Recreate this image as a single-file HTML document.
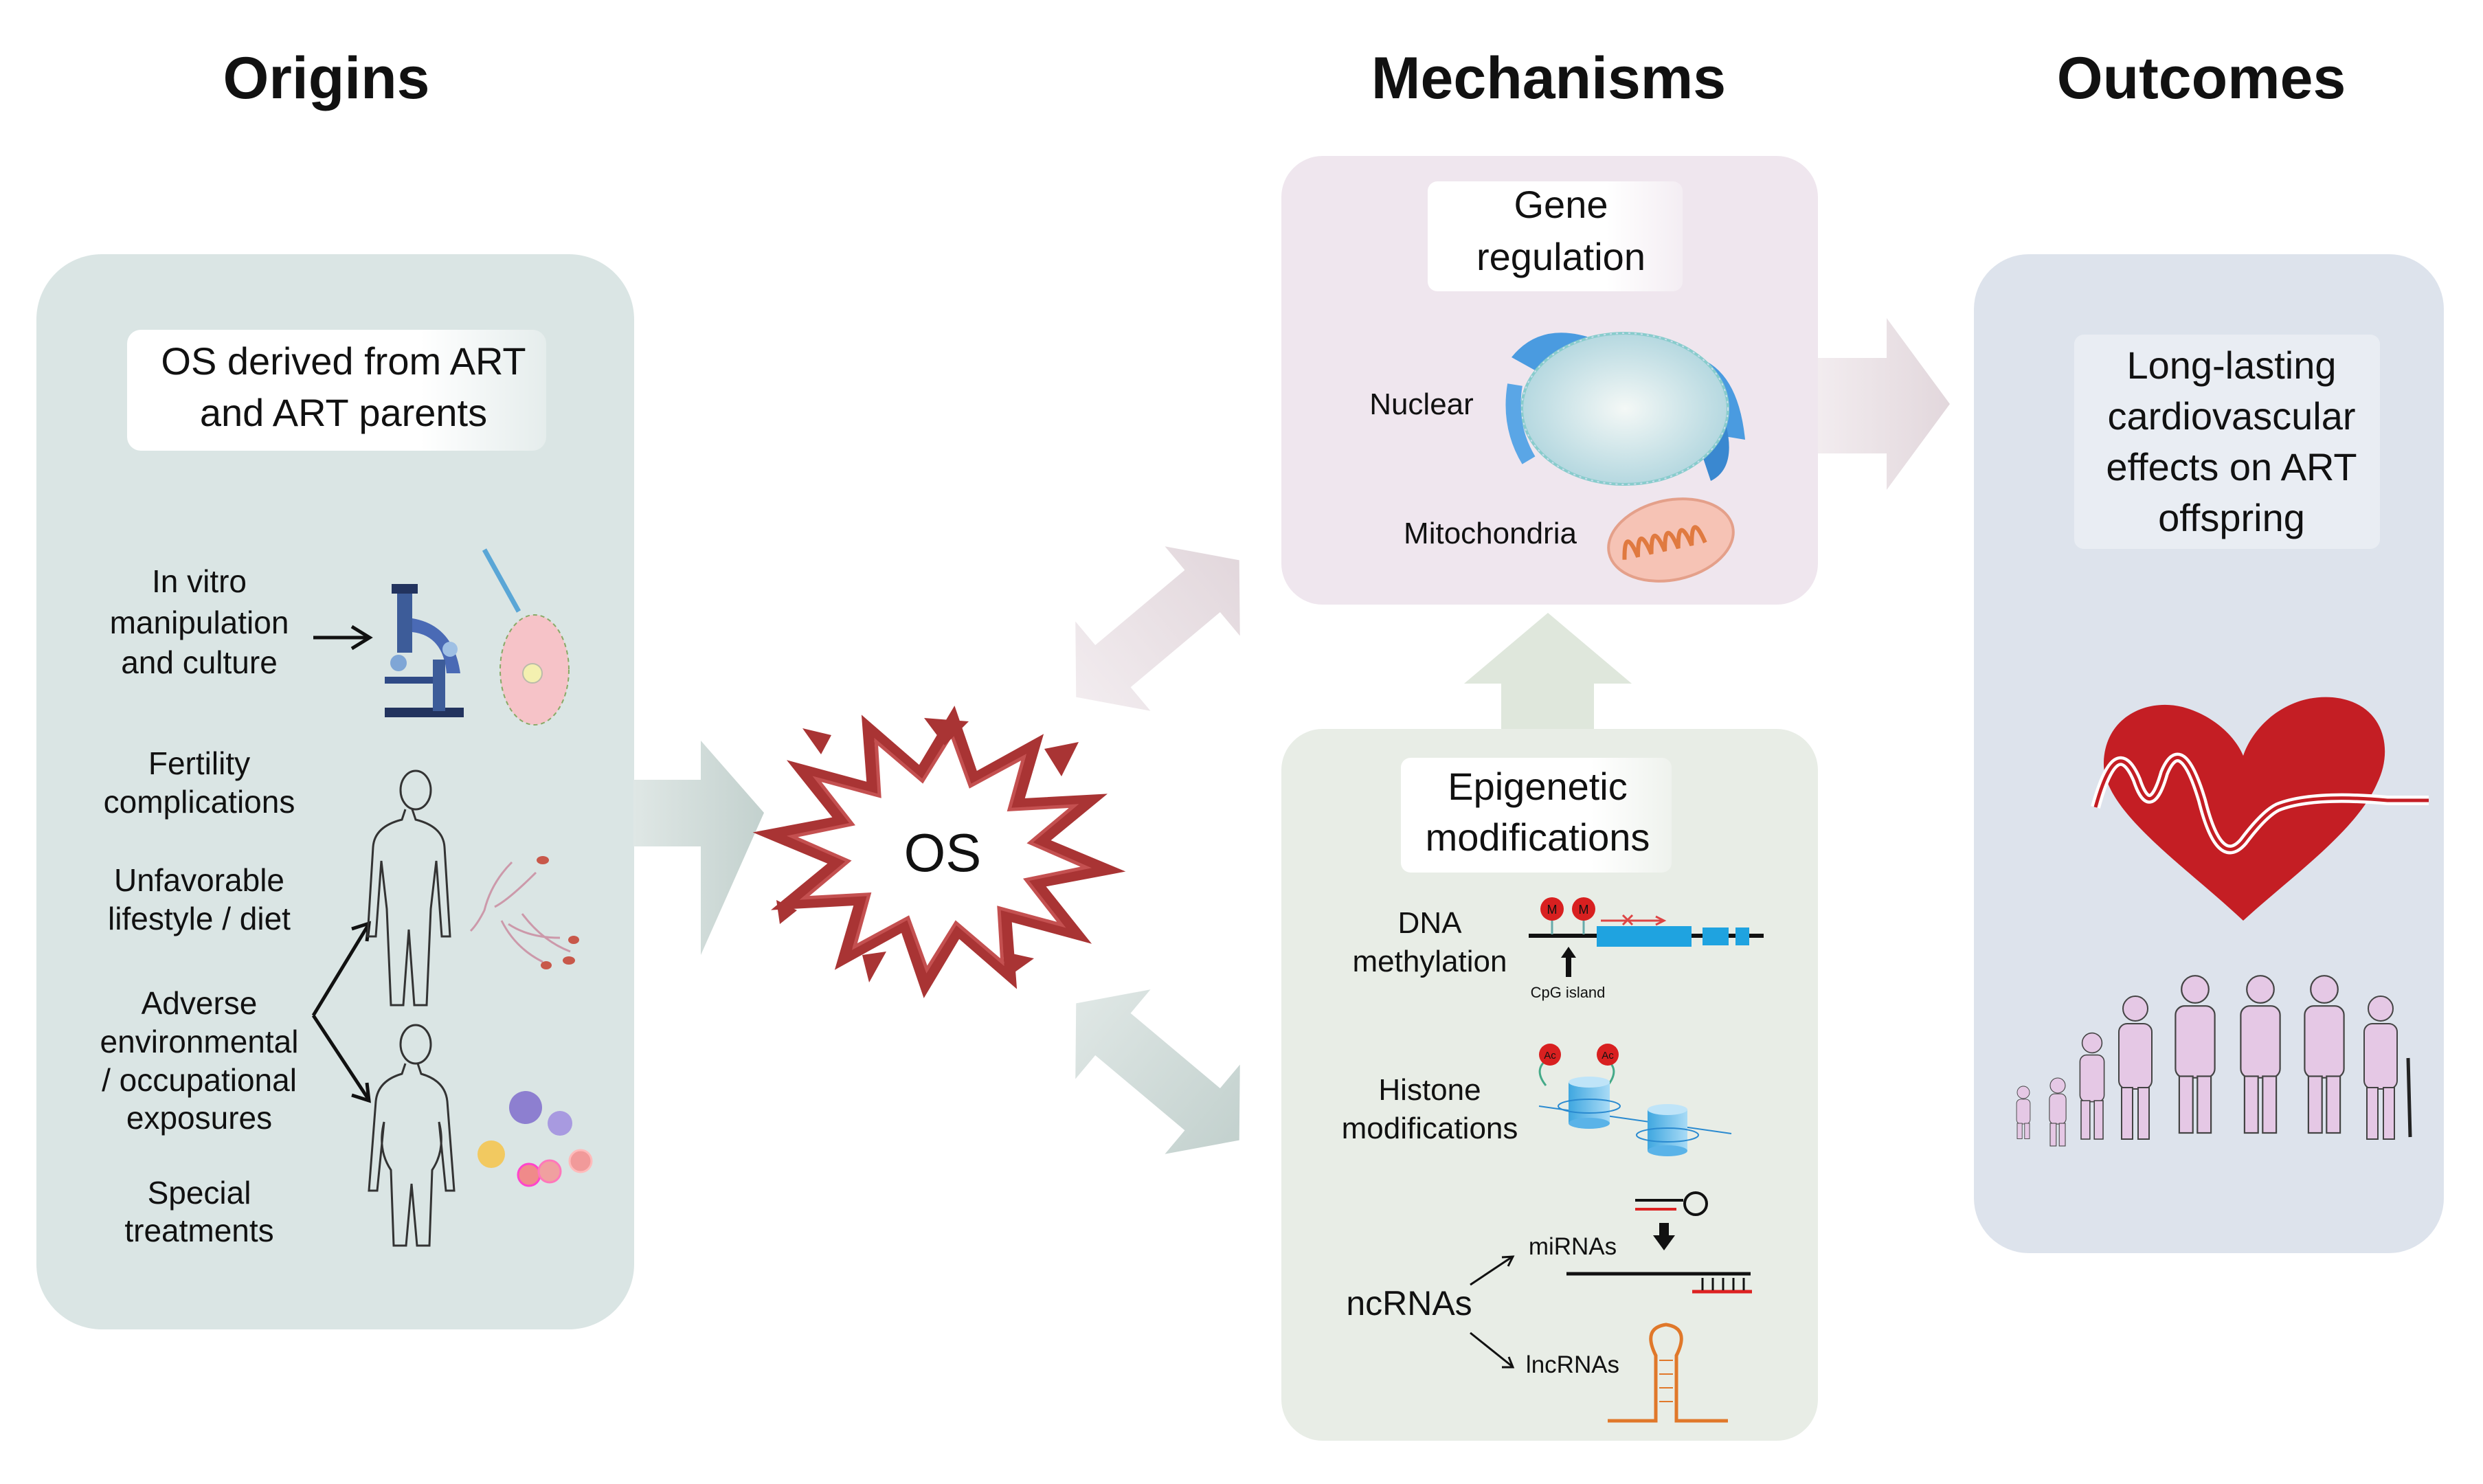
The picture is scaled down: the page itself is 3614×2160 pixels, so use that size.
<!DOCTYPE html>
<html><head><meta charset="utf-8"><style>
html,body{margin:0;padding:0;background:#fff;}
svg{display:block;}
text{font-family:"Liberation Sans",Arial,sans-serif;fill:#111;}
</style></head><body>
<svg width="3614" height="2160" viewBox="0 0 3614 2160" xmlns="http://www.w3.org/2000/svg">
<defs>
<linearGradient id="lbl" x1="0" x2="1" y1="0" y2="0"><stop offset="0" stop-color="#fff"/><stop offset="0.7" stop-color="#fff"/><stop offset="1" stop-color="#fff" stop-opacity="0.3"/></linearGradient>
<linearGradient id="arrG" x1="0" x2="1"><stop offset="0" stop-color="#dfe7e5"/><stop offset="1" stop-color="#c3d1ce"/></linearGradient>
<linearGradient id="arrP" x1="0" x2="1"><stop offset="0" stop-color="#f2ecef"/><stop offset="1" stop-color="#e2d7dc"/></linearGradient>
<linearGradient id="cyl" x1="0" x2="1"><stop offset="0" stop-color="#3fa7e0"/><stop offset="1" stop-color="#a9dbf6"/></linearGradient>
<radialGradient id="nuc"><stop offset="0" stop-color="#f4f8f6"/><stop offset="1" stop-color="#b5d8e0"/></radialGradient>
</defs>

<!-- Titles -->
<text x="475" y="143" font-size="86" font-weight="bold" text-anchor="middle">Origins</text>
<text x="2254" y="143" font-size="86" font-weight="bold" text-anchor="middle">Mechanisms</text>
<text x="3204" y="143" font-size="86" font-weight="bold" text-anchor="middle">Outcomes</text>

<!-- Origins box -->
<rect x="53" y="370" width="870" height="1565" rx="95" fill="#dae5e4"/>
<rect x="185" y="480" width="610" height="176" rx="20" fill="url(#lbl)"/>
<text x="500" y="545" font-size="56" text-anchor="middle">OS derived from ART</text>
<text x="500" y="620" font-size="56" text-anchor="middle">and ART parents</text>

<g font-size="46" text-anchor="middle">
<text x="290" y="862">In vitro</text>
<text x="290" y="922">manipulation</text>
<text x="290" y="980">and culture</text>
<text x="290" y="1127">Fertility</text>
<text x="290" y="1183">complications</text>
<text x="290" y="1297">Unfavorable</text>
<text x="290" y="1353">lifestyle / diet</text>
<text x="290" y="1476">Adverse</text>
<text x="290" y="1532">environmental</text>
<text x="290" y="1588">/ occupational</text>
<text x="290" y="1643">exposures</text>
<text x="290" y="1752">Special</text>
<text x="290" y="1807">treatments</text>
</g>
<!-- arrows in origins -->
<g stroke="#111" stroke-width="5" fill="none">
<line x1="456" y1="928" x2="535" y2="928"/><polyline points="512,912 538,928 512,944"/>
<line x1="456" y1="1478" x2="535" y2="1348"/><polyline points="512,1352 537,1344 534,1370"/>
<line x1="456" y1="1478" x2="535" y2="1598"/><polyline points="512,1594 537,1602 534,1576"/>
</g>
<!-- microscope -->
<g>
<rect x="578" y="855" width="22" height="95" fill="#3d5c99"/>
<rect x="570" y="850" width="38" height="14" fill="#22335e"/>
<path d="M600 900 q60 10 70 80 l-20 0 q-5 -55 -50 -60z" fill="#4a6ab5"/>
<rect x="560" y="985" width="80" height="10" fill="#2f4a86"/>
<rect x="560" y="1030" width="115" height="14" fill="#22335e"/>
<rect x="630" y="960" width="18" height="75" fill="#3d5c99"/>
<circle cx="580" cy="965" r="12" fill="#7fa6d6"/><circle cx="655" cy="945" r="11" fill="#9fc0e4"/>
</g>
<!-- egg -->
<line x1="705" y1="800" x2="755" y2="890" stroke="#5aa6d6" stroke-width="7"/>
<ellipse cx="778" cy="975" rx="50" ry="80" fill="#f6c3c8" stroke="#8a6" stroke-width="2" stroke-dasharray="6 5"/>
<ellipse cx="775" cy="980" rx="14" ry="14" fill="#f4f0b0" stroke="#bba" stroke-width="2"/>
<!-- male figure -->
<g fill="none" stroke="#333" stroke-width="3">
<ellipse cx="605" cy="1150" rx="22" ry="28"/>
<path d="M590 1178 l-5 15 q-40 10 -42 40 l-8 130 l12 0 l8 -110 l8 70 l6 140 l18 0 l8 -110 l8 110 l18 0 l6 -140 l8 -70 l8 110 l12 0 l-8 -130 q-2 -30 -42 -40 l-5 -15"/>
</g>
<!-- female figure -->
<g fill="none" stroke="#333" stroke-width="3">
<ellipse cx="605" cy="1520" rx="22" ry="28"/>
<path d="M590 1548 l-5 15 q-35 10 -38 40 l-10 130 l12 0 l10 -100 q-10 40 10 70 l4 110 l18 0 l8 -90 l8 90 l18 0 l4 -110 q20 -30 10 -70 l10 100 l12 0 l-10 -130 q-3 -30 -38 -40 l-5 -15"/>
</g>
<!-- sperm -->
<g stroke="#c9a" stroke-width="3" fill="none">
<path d="M745 1255 q-30 30 -40 70 q-10 20 -20 30"/><path d="M780 1270 q-40 40 -60 50"/><path d="M730 1340 q20 40 60 60"/><path d="M740 1345 q30 20 75 20"/><path d="M760 1330 q30 40 70 55"/>
</g>
<g fill="#c8584a"><ellipse cx="790" cy="1252" rx="9" ry="6"/><ellipse cx="828" cy="1398" rx="9" ry="6"/><ellipse cx="795" cy="1405" rx="8" ry="6"/><ellipse cx="835" cy="1368" rx="8" ry="6"/></g>
<!-- cells -->
<circle cx="765" cy="1612" r="24" fill="#8d7fd0"/><circle cx="815" cy="1635" r="18" fill="#a89ae0"/>
<circle cx="715" cy="1680" r="20" fill="#f2c960"/><circle cx="770" cy="1710" r="16" fill="#f08a8a" stroke="#f4c" stroke-width="3"/><circle cx="800" cy="1705" r="16" fill="#f0a0a0" stroke="#f7b" stroke-width="3"/><circle cx="845" cy="1690" r="16" fill="#f19a9a" stroke="#fbb" stroke-width="3"/>

<!-- Origins -> OS arrow -->
<polygon points="922,1135 1020,1135 1020,1078 1112,1183 1020,1390 1020,1232 922,1232" fill="url(#arrG)"/>

<!-- OS starburst -->
<g transform="translate(1367,1240) rotate(6)">
<polygon points="245,0 145,30 212,98 106,81 122,169 39,111 0,195 -39,111 -122,169 -106,81 -212,98 -145,30 -245,0 -145,-30 -212,-98 -106,-81 -122,-169 -39,-111 0,-195 39,-111 122,-169 106,-81 212,-98 145,-30" fill="#fff" stroke="#a93434" stroke-width="16" stroke-linejoin="miter"/>
<polygon points="215,0 130,27 188,87 95,72 108,150 35,100 0,172 -35,100 -108,150 -95,72 -188,87 -130,27 -215,0 -130,-27 -188,-87 -95,-72 -108,-150 -35,-100 0,-172 35,-100 108,-150 95,-72 188,-87 130,-27" fill="#fff" stroke="#c45050" stroke-width="5"/>
</g>
<g fill="#a93434">
<polygon points="1168,1060 1210,1070 1195,1098"/><polygon points="1345,1045 1410,1050 1375,1085"/><polygon points="1520,1090 1570,1080 1545,1130"/>
<polygon points="1130,1310 1160,1325 1135,1345"/><polygon points="1255,1390 1290,1385 1265,1430"/><polygon points="1460,1385 1505,1395 1470,1420"/>
</g>
<text x="1372" y="1268" font-size="78" text-anchor="middle">OS</text>

<!-- double arrows -->
<g transform="translate(1685,915) rotate(-40)">
<polygon points="-155,0 -85,-85 -85,-40 85,-40 85,-85 155,0 85,85 85,40 -85,40 -85,85" fill="url(#arrP)"/>
</g>
<g transform="translate(1685,1560) rotate(40)">
<polygon points="-155,0 -85,-85 -85,-40 85,-40 85,-85 155,0 85,85 85,40 -85,40 -85,85" fill="url(#arrG)"/>
</g>

<!-- Gene regulation box -->
<rect x="1865" y="227" width="781" height="653" rx="60" fill="#efe6ee"/>
<rect x="2078" y="264" width="371" height="160" rx="14" fill="url(#lbl)"/>
<text x="2272" y="317" font-size="56" text-anchor="middle">Gene</text>
<text x="2272" y="393" font-size="56" text-anchor="middle">regulation</text>
<text x="2069" y="603" font-size="44" text-anchor="middle">Nuclear</text>
<text x="2169" y="791" font-size="44" text-anchor="middle">Mitochondria</text>
<!-- nucleus -->
<path d="M2200 520 q40 -50 110 -30 l-20 80 z" fill="#4a9be0"/>
<path d="M2470 520 q60 20 70 120 l-60 -10 z" fill="#4a9be0"/>
<path d="M2510 610 q20 70 -20 90 l-20 -60 z" fill="#3a88d0"/>
<ellipse cx="2365" cy="595" rx="150" ry="110" fill="url(#nuc)" stroke="#8cc" stroke-width="4"/>
<ellipse cx="2365" cy="595" rx="150" ry="110" fill="none" stroke="#cde" stroke-width="2" stroke-dasharray="3 6"/>
<path d="M2205 560 q-10 60 20 110" stroke="#5aa6e6" stroke-width="22" fill="none"/>
<!-- mito -->
<ellipse cx="2432" cy="786" rx="92" ry="58" fill="#f6c3b5" stroke="#e4a08a" stroke-width="4" transform="rotate(-12 2432 786)"/>
<path d="M2360 800 q10 -50 20 0 q10 -50 20 0 q10 -50 20 0 q10 -50 20 0 q10 -50 20 0 q10 -50 20 0" stroke="#e07a40" stroke-width="6" fill="none" transform="rotate(-12 2432 786)"/>

<!-- up arrow -->
<polygon points="2185,1061 2185,995 2131,995 2253,892 2375,995 2320,995 2320,1061" fill="#dfe7dc"/>

<!-- right arrow to outcomes -->
<polygon points="2646,521 2746,521 2746,463 2838,588 2746,713 2746,660 2646,660" fill="url(#arrP)"/>

<!-- Epigenetic box -->
<rect x="1865" y="1061" width="781" height="1036" rx="60" fill="#e8ede6"/>
<rect x="2039" y="1103" width="394" height="167" rx="14" fill="url(#lbl)"/>
<text x="2238" y="1164" font-size="56" text-anchor="middle">Epigenetic</text>
<text x="2238" y="1238" font-size="56" text-anchor="middle">modifications</text>
<g font-size="44" text-anchor="middle">
<text x="2081" y="1358">DNA</text>
<text x="2081" y="1414">methylation</text>
<text x="2081" y="1601">Histone</text>
<text x="2081" y="1657">modifications</text>
</g>
<text x="2051" y="1914" font-size="50" text-anchor="middle">ncRNAs</text>
<text x="2289" y="1826" font-size="35" text-anchor="middle">miRNAs</text>
<text x="2289" y="1998" font-size="35" text-anchor="middle">lncRNAs</text>
<text x="2282" y="1452" font-size="22" text-anchor="middle" fill="#333">CpG island</text>
<!-- DNA methylation -->
<line x1="2225" y1="1362" x2="2567" y2="1362" stroke="#111" stroke-width="6"/>
<rect x="2324" y="1348" width="138" height="30" fill="#1fa3e0"/>
<rect x="2478" y="1350" width="38" height="26" fill="#1fa3e0"/>
<rect x="2526" y="1350" width="20" height="26" fill="#1fa3e0"/>
<line x1="2259" y1="1335" x2="2259" y2="1360" stroke="#6aa" stroke-width="3"/>
<line x1="2305" y1="1335" x2="2305" y2="1360" stroke="#6aa" stroke-width="3"/>
<circle cx="2259" cy="1323" r="17" fill="#d82020"/><circle cx="2305" cy="1323" r="17" fill="#d82020"/>
<text x="2259" y="1330" font-size="18" text-anchor="middle" fill="#fcc">M</text><text x="2305" y="1330" font-size="18" text-anchor="middle" fill="#fcc">M</text>
<line x1="2330" y1="1340" x2="2420" y2="1340" stroke="#d44" stroke-width="3"/><polyline points="2410,1334 2422,1340 2410,1346" stroke="#d44" stroke-width="3" fill="none"/>
<path d="M2362 1332 l14 14 M2376 1332 l-14 14" stroke="#d44" stroke-width="3"/>
<line x1="2283" y1="1422" x2="2283" y2="1392" stroke="#111" stroke-width="8"/><polygon points="2272,1394 2283,1378 2294,1394" fill="#111"/>
<!-- histones -->
<path d="M2250 1580 q-20 -25 5 -40 M2340 1580 q20 -25 -5 -40" stroke="#4a8" stroke-width="3" fill="none"/>
<circle cx="2256" cy="1535" r="16" fill="#d82020"/><circle cx="2340" cy="1535" r="16" fill="#d82020"/>
<text x="2256" y="1541" font-size="15" text-anchor="middle" fill="#fcc">Ac</text><text x="2340" y="1541" font-size="15" text-anchor="middle" fill="#fcc">Ac</text>
<line x1="2240" y1="1610" x2="2520" y2="1650" stroke="#2a8ad0" stroke-width="2"/>
<rect x="2283" y="1575" width="60" height="60" fill="url(#cyl)"/><ellipse cx="2313" cy="1575" rx="30" ry="8" fill="#bfe4f8"/><ellipse cx="2313" cy="1635" rx="30" ry="8" fill="#5ab3e8"/>
<rect x="2398" y="1615" width="58" height="60" fill="url(#cyl)"/><ellipse cx="2427" cy="1615" rx="29" ry="8" fill="#bfe4f8"/><ellipse cx="2427" cy="1675" rx="29" ry="8" fill="#5ab3e8"/>
<ellipse cx="2313" cy="1610" rx="45" ry="10" fill="none" stroke="#2a8ad0" stroke-width="2"/>
<ellipse cx="2427" cy="1652" rx="45" ry="10" fill="none" stroke="#2a8ad0" stroke-width="2"/>
<!-- ncRNAs -->
<g stroke="#111" stroke-width="3" fill="none">
<line x1="2140" y1="1870" x2="2200" y2="1830"/><polyline points="2186,1830 2202,1829 2195,1843"/>
<line x1="2140" y1="1940" x2="2200" y2="1988"/><polyline points="2186,1990 2202,1990 2196,1975"/>
</g>
<line x1="2380" y1="1747" x2="2450" y2="1747" stroke="#111" stroke-width="4"/>
<line x1="2380" y1="1760" x2="2440" y2="1760" stroke="#d22" stroke-width="4"/>
<circle cx="2468" cy="1752" r="16" fill="none" stroke="#111" stroke-width="4"/>
<rect x="2415" y="1780" width="14" height="20" fill="#111"/><polygon points="2406,1798 2438,1798 2422,1820" fill="#111"/>
<line x1="2280" y1="1854" x2="2548" y2="1854" stroke="#111" stroke-width="5"/>
<line x1="2463" y1="1880" x2="2550" y2="1880" stroke="#d22" stroke-width="5"/>
<g stroke="#111" stroke-width="3"><line x1="2478" y1="1860" x2="2478" y2="1878"/><line x1="2493" y1="1860" x2="2493" y2="1878"/><line x1="2508" y1="1860" x2="2508" y2="1878"/><line x1="2523" y1="1860" x2="2523" y2="1878"/><line x1="2538" y1="1860" x2="2538" y2="1878"/></g>
<path d="M2340 2068 l70 0 l0 -95 q-20 -40 15 -45 q35 5 15 45 l0 95 l75 0" stroke="#e0782a" stroke-width="5" fill="none"/>
<path d="M2415 1980 l20 0 M2415 2000 l20 0 M2415 2020 l20 0 M2415 2040 l20 0" stroke="#e0782a" stroke-width="2"/>

<!-- Outcomes box -->
<rect x="2873" y="370" width="684" height="1454" rx="80" fill="#dde3ec"/>
<rect x="3019" y="487" width="445" height="312" rx="14" fill="#e9edf3"/>
<g font-size="56" text-anchor="middle">
<text x="3248" y="551">Long-lasting</text>
<text x="3248" y="625">cardiovascular</text>
<text x="3248" y="699">effects on ART</text>
<text x="3248" y="773">offspring</text>
</g>
<!-- heart -->
<path d="M3265 1340 C3180 1260 3060 1180 3062 1110 C3064 1040 3130 1015 3180 1030 C3225 1043 3255 1075 3265 1100 C3280 1055 3330 1010 3395 1015 C3470 1022 3485 1090 3460 1140 C3430 1210 3330 1280 3265 1340 Z" fill="#c41e24"/>
<path d="M3050 1175 q30 -110 60 -40 q20 60 40 -10 q25 -60 55 40 q25 100 60 60 q30 -40 50 -50 q50 -20 160 -10 l60 0" stroke="#fff" stroke-width="14" fill="none"/>
<path d="M3050 1175 q30 -110 60 -40 q20 60 40 -10 q25 -60 55 40 q25 100 60 60 q30 -40 50 -50 q50 -20 160 -10 l60 0" stroke="#c41e24" stroke-width="5" fill="none"/>
<!-- people -->
<g fill="#e5c8e5" stroke="#444" stroke-width="2">
<g transform="translate(2945,1590) scale(0.45)"><circle cx="0" cy="0" r="20"/><rect x="-22" y="22" width="44" height="80" rx="14"/><rect x="-20" y="100" width="16" height="50"/><rect x="4" y="100" width="16" height="50"/></g>
<g transform="translate(2995,1580) scale(0.55)"><circle cx="0" cy="0" r="20"/><rect x="-22" y="22" width="44" height="80" rx="14"/><rect x="-20" y="100" width="16" height="60"/><rect x="4" y="100" width="16" height="60"/></g>
<g transform="translate(3045,1518) scale(0.8)"><circle cx="0" cy="0" r="18"/><rect x="-22" y="22" width="44" height="85" rx="12"/><rect x="-20" y="105" width="16" height="70"/><rect x="4" y="105" width="16" height="70"/></g>
<g transform="translate(3108,1468) scale(1)"><circle cx="0" cy="0" r="18"/><rect x="-24" y="22" width="48" height="95" rx="12"/><rect x="-20" y="115" width="16" height="75"/><rect x="4" y="115" width="16" height="75"/></g>
<g transform="translate(3195,1440) scale(1.1)"><circle cx="0" cy="0" r="18"/><rect x="-26" y="22" width="52" height="95" rx="12"/><rect x="-21" y="115" width="18" height="75"/><rect x="3" y="115" width="18" height="75"/></g>
<g transform="translate(3290,1440) scale(1.1)"><circle cx="0" cy="0" r="18"/><rect x="-26" y="22" width="52" height="95" rx="12"/><rect x="-21" y="115" width="18" height="75"/><rect x="3" y="115" width="18" height="75"/></g>
<g transform="translate(3383,1440) scale(1.1)"><circle cx="0" cy="0" r="18"/><rect x="-26" y="22" width="52" height="95" rx="12"/><rect x="-21" y="115" width="18" height="75"/><rect x="3" y="115" width="18" height="75"/></g>
<g transform="translate(3465,1468) scale(1)"><circle cx="0" cy="0" r="18"/><rect x="-24" y="22" width="48" height="95" rx="12"/><rect x="-20" y="115" width="16" height="75"/><rect x="4" y="115" width="16" height="75"/></g>
</g>
<line x1="3505" y1="1540" x2="3508" y2="1655" stroke="#222" stroke-width="5"/>
</svg>
</body></html>
